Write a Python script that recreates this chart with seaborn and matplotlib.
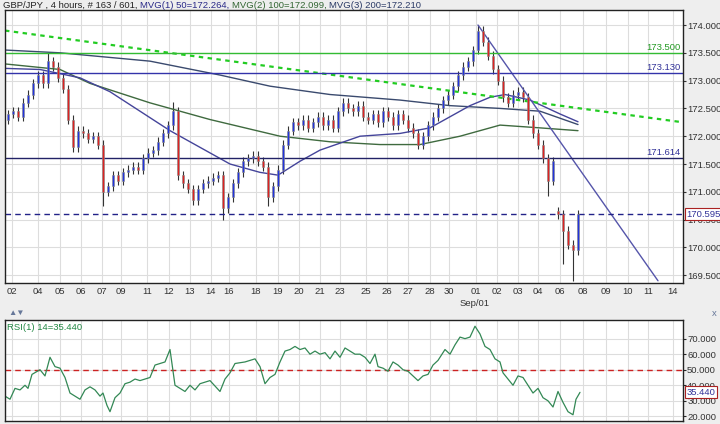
import numpy as np
import pandas as pd
import matplotlib
matplotlib.use("Agg")
import matplotlib.pyplot as plt
import seaborn as sns

# ---- data ----
bar_x = list(range(8, 579, 5))
closes = [172.40, 172.45, 172.35, 172.60, 172.75, 172.95, 173.10, 172.95, 173.35, 173.25,
          173.05, 172.85, 172.30, 171.80, 172.10, 172.05, 171.95, 172.00, 171.85, 171.00,
          171.10, 171.30, 171.20, 171.35, 171.40, 171.45, 171.40, 171.60, 171.70, 171.75,
          171.90, 172.05, 172.20, 172.45, 171.30, 171.15, 171.05, 170.85, 171.05, 171.15,
          171.20, 171.25, 171.30, 170.70, 170.90, 171.15, 171.35, 171.55, 171.60, 171.65,
          171.55, 171.45, 170.90, 171.10, 171.40, 171.85, 172.10, 172.25, 172.20, 172.30,
          172.15, 172.25, 172.35, 172.20, 172.30, 172.15, 172.45, 172.60, 172.50, 172.45,
          172.55, 172.35, 172.30, 172.40, 172.25, 172.45, 172.35, 172.20, 172.40, 172.30,
          172.15, 172.05, 171.85, 172.00, 172.20, 172.35, 172.50, 172.65, 172.75, 172.90,
          173.10, 173.25, 173.35, 173.55, 173.90, 173.70, 173.45, 173.20, 173.00, 172.70,
          172.60, 172.75, 172.80, 172.70, 172.30, 172.05, 171.85, 171.60, 171.20, 171.55,
          170.60, 170.30, 170.05, 169.95, 170.60]
first_open = 172.30
gap_opens = {110: 170.65}
wick_over = {8: (173.50, None), 19: (None, 170.75), 33: (172.62, None), 43: (None, 170.50),
             52: (None, 170.75), 94: (174.00, None), 108: (None, 170.92),
             113: (None, 169.40), 111: (170.68, 169.70)}
wick = 0.08

ma_x = [5, 40, 80, 110, 140, 170, 200, 230, 260, 278, 300, 320, 360, 400, 430, 450, 470,
        490, 505, 530, 560, 578]
ma50 = [173.22, 173.20, 173.05, 172.80, 172.45, 172.10, 171.80, 171.50, 171.35, 171.30,
        171.55, 171.75, 172.00, 172.05, 172.15, 172.35, 172.55, 172.70, 172.75, 172.65,
        172.40, 172.26]
ma100_x = [5, 60, 90, 150, 210, 280, 330, 380, 420, 460, 500, 540, 578]
ma100 = [173.30, 173.20, 172.95, 172.60, 172.30, 172.00, 171.90, 171.85, 171.85, 172.00,
         172.20, 172.15, 172.10]
ma200_x = [5, 60, 150, 220, 270, 330, 400, 450, 500, 540, 578]
ma200 = [173.55, 173.50, 173.35, 173.10, 172.90, 172.75, 172.65, 172.55, 172.50, 172.45,
         172.21]

rsi_x = [5, 10, 15, 20, 25, 28, 32, 40, 45, 50, 55, 60, 65, 70, 75, 80, 85, 90, 95, 100,
         103, 107, 110, 115, 120, 125, 130, 135, 140, 145, 150, 155, 165, 170, 175, 180, 185,
         190, 195, 200, 210, 220, 225, 230, 235, 245, 255, 260, 265, 270, 275, 280, 285, 290,
         295, 300, 305, 310, 315, 320, 325, 330, 335, 340, 345, 350, 355, 360, 365, 370, 375,
         378, 383, 388, 393, 398, 403, 408, 413, 418, 423, 428, 433, 438, 445, 450, 455, 460,
         465, 470, 475, 480, 485, 490, 495, 500, 503, 508, 513, 518, 523, 528, 533, 538, 543,
         548, 553, 558, 563, 568, 573, 576, 580]
rsi = [33, 31, 38, 37, 40, 38, 47, 50, 46, 58, 52, 51, 45, 35, 33, 31, 37, 39, 37, 33,
       35, 27, 23, 32, 35, 41, 42, 44, 43, 44, 45, 53, 55, 63, 40, 38, 36, 40, 37, 41,
       43, 36, 44, 48, 54, 55, 57, 52, 41, 45, 47, 55, 62, 63, 65, 63, 64, 60, 62, 60,
       61, 57, 62, 58, 64, 62, 60, 60, 58, 54, 60, 52, 51, 49, 55, 53, 50, 49, 46, 43,
       46, 47, 53, 56, 63, 60, 66, 71, 70, 71, 78, 73, 65, 63, 57, 55, 48, 44, 40, 46,
       45, 40, 35, 38, 32, 30, 26, 36, 29, 23, 21, 31, 35.44]

day_pos = [12, 38, 60, 81, 102, 121, 147, 169, 190, 211, 229, 256, 278, 299, 320, 340,
           366, 387, 408, 430, 449, 476, 497, 518, 538, 560, 583, 606, 628, 648, 673]
day_lab = ["02", "04", "05", "06", "07", "09", "11", "12", "13", "14", "16", "18", "19",
           "20", "21", "23", "25", "26", "27", "28", "30", "01", "02", "03", "04", "06",
           "08", "09", "10", "11", "14"]
price_ticks = [169.5, 170.0, 170.5, 171.0, 171.5, 172.0, 172.5, 173.0, 173.5, 174.0]
rsi_ticks = [20, 30, 40, 50, 60, 70]

# ---- figure ----
sns.set_style("white")
plt.rcParams['font.family'] = ['Liberation Sans', 'DejaVu Sans']
FS = 6.8
W, H = 720, 424
fig = plt.figure(figsize=(7.2, 4.24), dpi=100, facecolor="#eeeeee")
XL = (5, 683)
ax = fig.add_axes([5/W, 1-283/H, 678/W, 273/H])
ax.set_facecolor("white")
ax.set_xlim(*XL)
ax.set_ylim(169.36, 174.27)
for d in day_pos:
    ax.axvline(d, color="#dddddd", lw=0.8, zorder=0)
for p in price_ticks:
    ax.axhline(p, color="#dddddd", lw=0.8, zorder=0)

opens = []
prev = first_open
for i, c in enumerate(closes):
    opens.append(gap_opens.get(i, prev))
    prev = c
for i, (x, o, c) in enumerate(zip(bar_x, opens, closes)):
    hi, lo = max(o, c) + wick, min(o, c) - wick
    if i in wick_over:
        h2, l2 = wick_over[i]
        hi = h2 if h2 else hi
        lo = l2 if l2 else lo
    ax.vlines(x, lo, hi, color="#333333", lw=0.8, zorder=2)
    col = "#2233dd" if c >= o else "#dd2222"
    ax.bar(x, max(abs(c - o), 0.02), bottom=min(o, c), width=2.6, color=col,
           edgecolor="#888888", lw=0.4, zorder=3)

sns.lineplot(x=ma200_x, y=ma200, ax=ax, color="#3a4a6e", lw=1.0)
sns.lineplot(x=ma100_x, y=ma100, ax=ax, color="#3f6a3f", lw=1.0)
sns.lineplot(x=ma_x, y=ma50, ax=ax, color="#44449a", lw=1.0)

ax.plot([5, 683], [173.9, 172.25], color="#22cc22", lw=1.6, ls=(0, (2, 2)))
ax.plot([478, 658], [174.0, 169.4], color="#5555aa", lw=1.0)
ax.axhline(173.5, color="#33bb33", lw=1.0)
ax.axhline(173.13, color="#3333aa", lw=1.0)
ax.axhline(171.614, color="#222266", lw=1.0)
ax.axhline(170.595, color="#222288", lw=1.0, ls=(0, (4, 3)))
ax.text(681, 173.52, "173.500", color="#229922", fontsize=FS, ha="right", va="bottom")
ax.text(681, 173.15, "173.130", color="#333399", fontsize=FS, ha="right", va="bottom")
ax.text(681, 171.63, "171.614", color="#333399", fontsize=FS, ha="right", va="bottom")

ax.yaxis.tick_right()
ax.set_yticks(price_ticks)
ax.set_yticklabels(["%.3f" % p for p in price_ticks], fontsize=FS, color="#333333")
ax.tick_params(axis="y", length=2, pad=1, colors="#333333")
ax.set_xticks(day_pos)
ax.set_xticklabels(day_lab, fontsize=FS, color="#333333")
ax.tick_params(axis="x", length=0, pad=3)
for s in ax.spines.values():
    s.set_color("#222222"); s.set_linewidth(1)
ax.text(1.005, 170.595, "170.595", transform=ax.get_yaxis_transform(), fontsize=FS,
        color="#333399", va="center", ha="left", zorder=10,
        bbox=dict(boxstyle="square,pad=0.15", fc="white", ec="#aa2222", lw=0.8))
fig.text(475/W, 1-303/H, "Sep/01", fontsize=FS, color="#333333", ha="center", va="center")

# title (chained pieces)
prev_t = fig.text(3/W, 1-5/H, "GBP/JPY , 4 hours, # 163 / 601, ", fontsize=FS,
                  color="#222222", va="center")
for s, c in [("MVG(1) 50=172.264, ", "#2a2a88"), ("MVG(2) 100=172.099, ", "#336633"),
             ("MVG(3) 200=172.210", "#2a3a66")]:
    prev_t = ax.annotate(s, xy=(1, 0.5), xycoords=prev_t, fontsize=FS, color=c,
                         va="center", ha="left", annotation_clip=False)

# RSI panel
ax2 = fig.add_axes([5/W, 1-421/H, 678/W, 101/H])
ax2.set_facecolor("white")
ax2.set_xlim(*XL)
ax2.set_ylim(17, 82)
for d in day_pos:
    ax2.axvline(d, color="#dddddd", lw=0.8, zorder=0)
for r in rsi_ticks:
    ax2.axhline(r, color="#dddddd", lw=0.8, zorder=0)
ax2.axhline(50, color="#cc2222", lw=1.0, ls=(0, (4, 3)))
sns.lineplot(x=rsi_x, y=rsi, ax=ax2, color="#338855", lw=0.9)
ax2.yaxis.tick_right()
ax2.set_yticks(rsi_ticks)
ax2.set_yticklabels(["%.3f" % r for r in rsi_ticks], fontsize=FS, color="#333333")
ax2.tick_params(axis="y", length=2, pad=1)
ax2.set_xticks([])
for s in ax2.spines.values():
    s.set_color("#222222"); s.set_linewidth(1)
ax2.text(0.003, 0.97, "RSI(1) 14=35.440", transform=ax2.transAxes, fontsize=FS,
         color="#228844", va="top")
ax2.text(1.005, 35.44, "35.440", transform=ax2.get_yaxis_transform(), fontsize=FS,
         color="#333399", va="center", ha="left", zorder=10,
         bbox=dict(boxstyle="square,pad=0.15", fc="white", ec="#aa2222", lw=0.8))
fig.text(8/W, 1-313/H, "▲▼", fontsize=6, color="#667799", va="center")
fig.text(712/W, 1-313/H, "x", fontsize=FS, color="#667799", va="center")

fig.savefig("out.png", dpi=100, facecolor=fig.get_facecolor())
